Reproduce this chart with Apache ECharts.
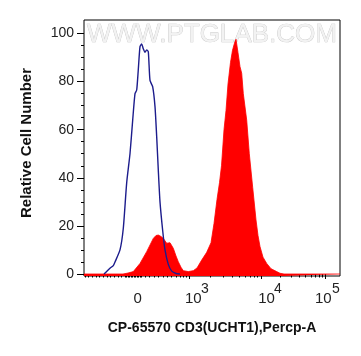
<!DOCTYPE html>
<html><head><meta charset="utf-8">
<script src="https://cdn.jsdelivr.net/npm/echarts@6/dist/echarts.min.js"></script>
<style>html,body{margin:0;padding:0;background:#fff}#c{width:361px;height:356px}</style>
</head><body><div id="c"></div>
<script>
// x values are positions on the biexponential display scale (0 = left edge, 256 = right edge)
const blueX = [20, 26, 29.3, 31, 36, 39.3, 42.7, 46, 48.7, 51, 52.7, 54.3, 56, 57.7, 59.3, 61, 62.7, 64.3, 66, 68.7, 71, 72.7, 74.3, 76, 78.7, 81, 84.3, 87.7, 92, 96];
const blueY = [0, 2.4, 3.5, 5, 10, 19, 38, 50, 64, 75, 76.5, 85, 94.5, 95.6, 93.6, 92.2, 93.2, 92.4, 80.5, 77.8, 69.6, 57, 43.2, 30, 18, 10, 4, 1.2, 0.2, 0];
const redX = [0, 39, 44, 49.3, 56, 62.7, 69.3, 72, 74.3, 77, 79.3, 82.7, 86, 89.3, 92, 94.3, 97, 99.3, 104.3, 109.3, 113, 117.7, 122.7, 127, 130, 133, 135.5, 137.5, 140, 142, 144, 146.5, 148.5, 150.5, 152, 154, 156, 157.7, 159.3, 162.7, 165.3, 168.7, 172, 174, 176, 179, 182.7, 187, 192.7, 196, 200, 256];
const redY = [0, 0, 0.4, 1, 4.4, 9.3, 14.8, 16, 16.2, 15.6, 14.8, 12.8, 13, 10.7, 7.5, 5.1, 2.8, 1.4, 1, 1.4, 2.5, 5.8, 9, 13, 21, 31, 38, 45, 60, 68, 79, 88, 93, 96, 97.6, 92, 86.2, 83.5, 75, 64, 50, 36, 22.5, 16, 11.4, 7, 4.4, 2.2, 1, 0.3, 0, 0];

// tick labels: base text and exponent (superscript) with their display positions
const xBasePos = [53.7, 109.3, 182.5, 239.3];
const xBaseLabels = ['0', '10', '10', '10'];
const xExpPos = [120.8, 193.8, 251.8];
const xExpLabels = ['3', '4', '5'];
const xMajorTicks = [105, 177, 241.5];
const xMinorTicks = [1, 4.7, 8.3, 12, 15.7, 19.3, 23, 26.7, 30.3, 34, 37.7,
  41, 42.5, 44, 45.5, 47, 48.5, 50, 51.5, 53, 54.5, 56, 57.5,
  61, 65.3, 70, 74.3, 79.3, 83.3, 87.7, 92.7, 96, 99.3, 102,
  126.7, 139.4, 148.3, 155.3, 161, 165.8, 170, 173.7,
  196.3, 207.5, 215.5, 221.7, 226.8, 231.1, 234.8, 238.1];
const yTicks = [0, 20, 40, 60, 80, 100];
const yMinorTicks = [5, 10, 15, 25, 30, 35, 45, 50, 55, 65, 70, 75, 85, 90, 95];

const FONT = 'Liberation Sans, Arial, sans-serif';
const chart = echarts.init(document.getElementById('c'), null, {renderer: 'canvas'});
const X_MIN = 0, X_MAX = 256, Y_MIN = -0.83, Y_MAX = 105.6;

function nearestLabel(pos, labels, v) {
  let i = 0, best = 1e9;
  pos.forEach((p, k) => { if (Math.abs(p - v) < best) { best = Math.abs(p - v); i = k; } });
  return labels[i];
}

chart.setOption({
  animation: false,
  backgroundColor: '#fff',
  grid: {left: 84, top: 20, right: 21, bottom: 80, show: true, borderColor: '#000', borderWidth: 1, backgroundColor: 'transparent'},
  xAxis: [{
    type: 'value', min: X_MIN, max: X_MAX, position: 'bottom',
    axisLine: {show: false}, splitLine: {show: false},
    axisTick: {show: true, customValues: xMajorTicks, length: 5, lineStyle: {color: '#000', width: 1}},
    axisLabel: {
      show: true, customValues: xBasePos, margin: 15, showMinLabel: true, showMaxLabel: true, hideOverlap: false,
      fontSize: 15, fontFamily: FONT, color: '#222',
      formatter: v => nearestLabel(xBasePos, xBaseLabels, v)
    }
  }, {
    type: 'value', min: X_MIN, max: X_MAX, position: 'bottom',
    axisLine: {show: false}, splitLine: {show: false},
    axisTick: {show: true, customValues: xMinorTicks, length: 3.5, lineStyle: {color: '#000', width: 1}},
    axisLabel: {
      show: true, customValues: xExpPos, margin: 6.5, showMinLabel: true, showMaxLabel: true, hideOverlap: false,
      fontSize: 14, fontFamily: FONT, color: '#222',
      formatter: v => nearestLabel(xExpPos, xExpLabels, v)
    }
  }],
  yAxis: [{
    type: 'value', min: Y_MIN, max: Y_MAX, position: 'left',
    axisLine: {show: false}, splitLine: {show: false},
    axisTick: {show: true, customValues: yTicks, length: 7, lineStyle: {color: '#000', width: 1}},
    axisLabel: {show: true, customValues: yTicks, margin: 10, fontSize: 14, fontFamily: FONT, color: '#222'}
  }, {
    type: 'value', min: Y_MIN, max: Y_MAX, position: 'left',
    axisLine: {show: false}, splitLine: {show: false}, axisLabel: {show: false},
    axisTick: {show: true, customValues: yMinorTicks, length: 3, lineStyle: {color: '#000', width: 1}}
  }],
  graphic: [
    {type: 'text', x: 87, y: 22, z: 0, silent: true,
      style: {text: 'WWW.PTGLAB.COM', fontSize: 26, fontFamily: FONT, fill: '#f2f2f2', stroke: '#c4c4c4', lineWidth: 0.7}},
    {type: 'text', x: 212, y: 328, z: 10,
      style: {text: 'CP-65570 CD3(UCHT1),Percp-A', fontSize: 14, fontWeight: 'bold', fontFamily: FONT, fill: '#111', textAlign: 'center', textVerticalAlign: 'middle'}},
    {type: 'text', x: 27, y: 143, rotation: Math.PI / 2, z: 10,
      style: {text: 'Relative Cell Number', fontSize: 15, fontWeight: 'bold', fontFamily: FONT, fill: '#111', textAlign: 'center', textVerticalAlign: 'middle'}}
  ],
  series: [{
    type: 'line', name: 'CD3', xAxisIndex: 0, yAxisIndex: 0, z: 2,
    data: redX.map((x, i) => [x, redY[i]]),
    showSymbol: false, smooth: false,
    lineStyle: {color: '#ff0000', width: 0.8},
    itemStyle: {color: '#ff0000'},
    areaStyle: {color: '#ff0000', opacity: 1, origin: 'start'}
  }, {
    type: 'line', name: 'Isotype', xAxisIndex: 0, yAxisIndex: 0, z: 3,
    data: blueX.map((x, i) => [x, blueY[i]]),
    showSymbol: false, smooth: 0.2,
    lineStyle: {color: '#1c1c8c', width: 1.4},
    itemStyle: {color: '#1c1c8c'}
  }]
});
</script></body></html>
